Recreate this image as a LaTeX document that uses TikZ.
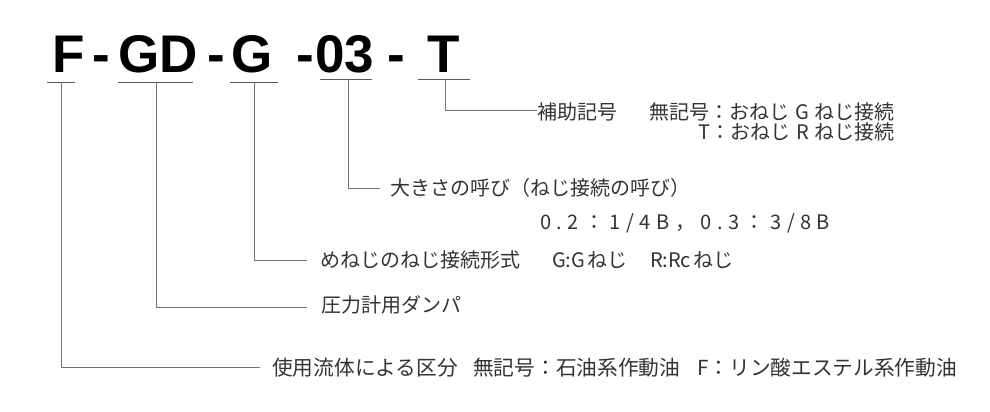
\documentclass[tikz,border=0pt]{standalone}
\usepackage{fontspec}
\setmainfont{Liberation Sans}
\newfontfamily\jp{Noto Sans CJK JP}
\newcommand\ks{\kern5.5pt}
\begin{document}
\begin{tikzpicture}[x=1pt,y=-1pt,
  code/.style={font=\fontsize{53}{53}\selectfont\bfseries, inner sep=0, anchor=base},
  lbl/.style={font=\jp\fontsize{20}{20}\selectfont, text=black!80, inner sep=0, anchor=base west},
  lblb/.style={font=\jp\fontsize{20.7}{20.7}\selectfont, text=black!80, inner sep=0, anchor=base west},
  lead/.style={draw=black!55, line width=0.9pt},
  uline/.style={draw=black!65, line width=1pt}]
\useasboundingbox (0,0) rectangle (990,412);
% code letters
\node[code] (cF) at (69,73) {F};
\node[code] (d1) at (101,73) {-};
\node[code] (cGD) at (158,73) {GD};
\node[code] (d2) at (216,73) {-};
\node[code] (cG) at (252,73) {G};
\node[code] (d3) at (305,73) {-};
\node[code] (c03) at (345,73) {03};
\node[code] (d4) at (396,73) {-};
\node[code] (cT) at (444,73) {T};
% underlines
\coordinate (uF1) at (47,82); \coordinate (uF2) at (75,82);
\coordinate (uGD1) at (118,82); \coordinate (uGD2) at (193,82);
\coordinate (uG1) at (230,82); \coordinate (uG2) at (278,82);
\coordinate (u031) at (320,79); \coordinate (u032) at (372,79);
\coordinate (uT1) at (418,79); \coordinate (uT2) at (470,79);
\draw[uline] (uF1) -- (uF2);
\draw[uline] (uGD1) -- (uGD2);
\draw[uline] (uG1) -- (uG2);
\draw[uline] (u031) -- (u032);
\draw[uline] (uT1) -- (uT2);
% leader start/end points
\coordinate (sF) at (61,82);   \coordinate (eF) at (260,367);
\coordinate (sGD) at (156,82); \coordinate (eGD) at (307,307);
\coordinate (sG) at (254,82);  \coordinate (eG) at (307,260);
\coordinate (s03) at (348,79); \coordinate (e03) at (380,188);
\coordinate (sT) at (445,79);  \coordinate (eT) at (537,110);
\draw[lead] (sF) |- (eF);
\draw[lead] (sGD) |- (eGD);
\draw[lead] (sG) |- (eG);
\draw[lead] (s03) |- (e03);
\draw[lead] (sT) |- (eT);
% labels
\node[lbl] (tT1) at (537,119) {補助記号};
\node[lbl, anchor=base east] (tT2) at (895,119) {無記号：おねじ\kern6pt G\kern6pt ねじ接続};
\node[lbl, anchor=base east] (tT3) at (895,139) {T：おねじ\kern6pt R\kern6pt ねじ接続};
\node[lbl] (t03a) at (390,195.5) {大きさの呼び（ねじ接続の呼び）};
\node[lbl] (t03b) at (540,229) {0\ks.\ks2\ks：\ks1\ks/\ks4\ks B\ks，\ks0\ks.\ks3\ks：\ks3\ks/\ks8\ks B};
\node[lbl] (tGa) at (320,267.5) {めねじのねじ接続形式};
\node[lbl] (tGb) at (552,267.5) {G:G\kern2pt ねじ};
\node[lbl] (tGc) at (650,267.5) {R:Rc\kern2pt ねじ};
\node[lbl] (tGD) at (321,312.5) {圧力計用ダンパ};
\node[lblb] (tFa) at (272,375.5) {使用流体による区分};
\node[lblb] (tFb) at (473,375.5) {無記号：石油系作動油};
\node[lblb] (tFc) at (697,375.5) {F：リン酸エステル系作動油};
\end{tikzpicture}
\end{document}
